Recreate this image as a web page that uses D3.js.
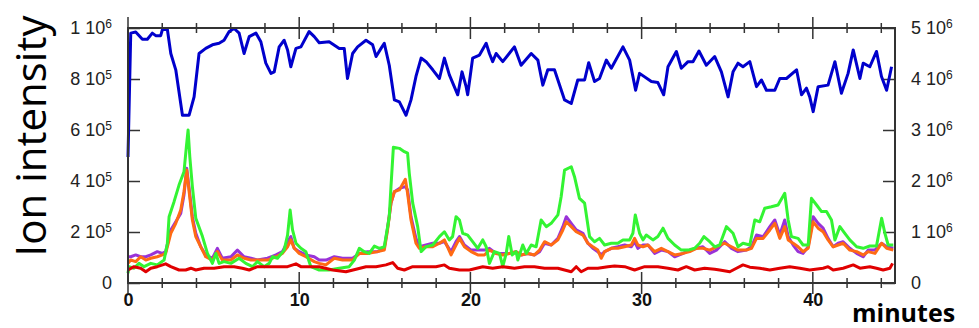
<!DOCTYPE html>
<html lang="en">
<head>
    <meta charset="UTF-8">
    <title>Ion intensity</title>
    <script src="https://d3js.org/d3.v7.min.js"></script>
    <style>
        body { margin: 0; background: #fff; }
    </style>
</head>
<body>
    <div id="chart"></div>
    <script>
        // time in minutes, intensity values
        // blue trace: right axis, units of 1e6
        const blueSeries = [
            [0.0, 2.47], [0.16, 4.90], [0.45, 4.92], [0.84, 4.78], [1.13, 4.78], [1.42, 4.90], [1.62, 4.85],
            [1.91, 4.85], [2.01, 4.97], [2.30, 4.97], [2.50, 4.50], [2.79, 4.18], [3.18, 3.29], [3.57, 3.29],
            [3.86, 3.65], [4.15, 4.50], [4.54, 4.60], [4.93, 4.67], [5.32, 4.70], [5.61, 4.76], [5.91, 4.93],
            [6.20, 4.99], [6.49, 4.90], [6.78, 4.50], [7.08, 4.83], [7.47, 4.90], [7.76, 4.73], [8.05, 4.31],
            [8.35, 4.11], [8.54, 4.14], [8.83, 4.63], [9.12, 4.76], [9.32, 4.57], [9.51, 4.24], [9.81, 4.60],
            [10.10, 4.63], [10.58, 4.93], [10.88, 4.83], [11.17, 4.71], [11.75, 4.73], [12.34, 4.60], [12.63, 4.60],
            [12.82, 4.01], [13.12, 4.50], [13.41, 4.63], [13.90, 4.76], [14.29, 4.67], [14.49, 4.44], [14.78, 4.60],
            [14.97, 4.70], [15.26, 4.27], [15.56, 3.59], [15.85, 3.55], [16.24, 3.29], [16.53, 3.59], [16.82, 4.05],
            [17.12, 4.41], [17.41, 4.34], [17.80, 4.18], [18.19, 4.01], [18.48, 4.41], [18.77, 4.08], [19.26, 3.69],
            [19.51, 4.14], [19.75, 3.85], [19.84, 3.69], [20.13, 4.41], [20.53, 4.47], [20.92, 4.70], [21.11, 4.50],
            [21.30, 4.34], [21.50, 4.50], [21.89, 4.34], [22.57, 4.63], [22.96, 4.27], [23.55, 4.50], [23.94, 4.37],
            [24.23, 3.88], [24.52, 4.18], [24.91, 4.18], [25.50, 3.59], [25.89, 3.52], [26.27, 3.98], [26.67, 3.98],
            [26.91, 4.32], [27.25, 3.95], [27.54, 4.01], [27.94, 4.37], [28.23, 4.21], [28.91, 4.63], [29.30, 4.37],
            [29.65, 3.78], [29.88, 4.11], [30.57, 3.95], [30.95, 3.93], [31.29, 3.69], [31.54, 4.24], [32.03, 4.54],
            [32.32, 4.21], [32.71, 4.34], [33.00, 4.34], [33.35, 4.55], [33.78, 4.27], [34.27, 4.44], [34.66, 4.14],
            [35.05, 3.65], [35.34, 4.14], [35.63, 4.31], [35.92, 4.24], [36.32, 4.34], [36.71, 3.85], [37.00, 3.98],
            [37.29, 3.78], [37.78, 3.78], [38.07, 4.01], [38.46, 4.01], [39.05, 4.18], [39.34, 3.69], [39.63, 3.82],
            [39.82, 3.65], [40.02, 3.36], [40.31, 3.85], [40.89, 3.88], [41.29, 4.34], [41.67, 3.72], [42.06, 4.11],
            [42.36, 4.57], [42.75, 4.01], [42.94, 4.31], [43.33, 4.24], [43.72, 4.54], [44.01, 4.05], [44.31, 3.78],
            [44.60, 4.24]
        ];

        // green trace: left axis, units of 1e5
        const greenSeries = [
            [0.0, 0.38], [0.06, 0.64], [0.35, 0.58], [0.64, 0.77], [0.94, 0.64], [1.33, 0.77], [1.71, 0.71],
            [2.11, 0.90], [2.30, 1.56], [2.40, 2.60], [2.69, 3.19], [2.98, 3.84], [3.27, 4.36], [3.41, 5.35],
            [3.51, 6.00], [3.61, 4.95], [3.76, 3.78], [3.96, 2.54], [4.35, 1.82], [4.64, 1.16], [4.93, 0.77],
            [5.13, 1.16], [5.32, 0.77], [5.61, 0.84], [6.01, 0.77], [6.49, 0.97], [6.88, 0.77], [7.27, 0.64],
            [7.56, 0.84], [7.95, 0.64], [8.25, 0.77], [8.44, 1.03], [8.73, 0.97], [9.12, 1.29], [9.32, 1.88],
            [9.47, 2.86], [9.61, 2.08], [9.81, 1.56], [10.10, 1.36], [10.39, 1.23], [10.68, 0.64], [11.17, 0.51],
            [11.75, 0.51], [12.34, 0.58], [12.92, 0.64], [13.22, 0.90], [13.51, 1.36], [13.80, 1.23], [14.09, 1.16],
            [14.39, 1.45], [14.68, 1.36], [14.97, 1.42], [15.07, 1.82], [15.26, 2.60], [15.36, 3.78], [15.50, 5.32],
            [15.85, 5.28], [16.14, 5.15], [16.33, 5.09], [16.43, 4.30], [16.63, 3.13], [16.92, 2.21], [17.12, 1.23],
            [17.41, 1.42], [17.80, 1.49], [18.19, 1.82], [18.48, 2.01], [18.77, 1.69], [18.96, 1.82], [19.16, 2.60],
            [19.36, 2.47], [19.55, 1.95], [19.84, 1.88], [20.13, 1.62], [20.43, 1.36], [20.72, 1.69], [20.92, 1.42],
            [21.11, 0.77], [21.40, 1.23], [21.70, 1.16], [21.89, 0.64], [22.09, 1.16], [22.24, 1.82], [22.44, 1.10],
            [22.67, 1.23], [22.77, 0.90], [23.06, 1.49], [23.26, 1.16], [23.55, 1.49], [23.84, 1.42], [24.13, 2.47],
            [24.43, 2.21], [24.72, 2.34], [25.11, 2.67], [25.30, 3.38], [25.50, 4.43], [25.89, 4.56], [26.08, 4.17],
            [26.37, 3.32], [26.67, 3.13], [26.96, 1.82], [27.25, 1.62], [27.54, 1.75], [27.84, 1.49], [28.23, 1.56],
            [28.61, 1.56], [28.91, 1.69], [29.30, 1.69], [29.49, 1.95], [29.63, 2.67], [29.88, 1.95], [30.08, 1.69],
            [30.27, 1.88], [30.66, 1.69], [30.95, 1.82], [31.25, 2.15], [31.54, 1.75], [31.93, 1.49], [32.32, 1.29],
            [32.71, 1.29], [33.10, 1.36], [33.39, 1.56], [33.64, 1.82], [33.98, 1.62], [34.27, 1.42], [34.56, 1.49],
            [34.95, 2.21], [35.34, 1.95], [35.63, 1.42], [35.92, 1.56], [36.32, 1.49], [36.61, 2.47], [36.90, 2.40],
            [37.19, 2.93], [37.58, 2.99], [37.97, 3.06], [38.36, 3.52], [38.56, 2.47], [38.75, 1.82], [39.14, 1.75],
            [39.43, 1.49], [39.73, 1.49], [39.92, 3.32], [40.22, 3.06], [40.51, 2.80], [40.80, 2.80], [41.09, 2.47],
            [41.29, 1.69], [41.58, 2.21], [41.87, 1.95], [42.16, 1.69], [42.56, 1.42], [42.94, 1.36], [43.33, 1.45],
            [43.72, 1.45], [44.02, 2.54], [44.21, 1.95], [44.40, 1.49], [44.70, 1.49]
        ];

        // orange and purple traces share sample times (left axis, units of 1e5)
        const opTimes = [
            0.0, 0.16, 0.45, 0.74, 1.04, 1.33, 1.71, 2.01, 2.20, 2.50, 2.79, 3.08, 3.27, 3.43, 3.57, 3.76, 3.96,
            4.25, 4.54, 4.93, 5.22, 5.51, 6.01, 6.39, 6.78, 7.18, 7.56, 8.15, 8.64, 9.02, 9.32, 9.51, 9.71, 10.00,
            10.39, 10.88, 11.17, 11.56, 12.05, 12.53, 13.12, 13.51, 13.99, 14.58, 14.97, 15.16, 15.36, 15.56, 15.85,
            16.20, 16.33, 16.53, 16.82, 17.02, 17.41, 17.80, 18.19, 18.48, 18.87, 19.16, 19.36, 19.65, 20.04, 20.43,
            20.82, 21.11, 21.50, 21.89, 22.28, 22.67, 22.96, 23.35, 23.74, 24.04, 24.33, 24.72, 25.11, 25.40, 25.60,
            25.89, 26.18, 26.57, 26.86, 27.15, 27.44, 27.64, 27.84, 28.23, 28.61, 29.01, 29.40, 29.59, 29.78, 30.08,
            30.37, 30.76, 31.15, 31.54, 31.93, 32.42, 32.81, 33.20, 33.58, 33.98, 34.37, 34.85, 35.25, 35.63, 36.12,
            36.42, 36.71, 37.10, 37.49, 37.78, 38.07, 38.36, 38.56, 38.85, 39.14, 39.43, 39.73, 40.02, 40.31, 40.60,
            40.89, 41.19, 41.48, 41.77, 42.16, 42.56, 42.94, 43.23, 43.63, 44.02, 44.31, 44.70
        ];
        const orangeValues = [
            0.77, 0.90, 0.84, 1.03, 0.90, 0.97, 1.03, 1.10, 1.16, 1.95, 2.34, 2.86, 3.58, 4.43, 3.58, 2.47, 1.82,
            1.42, 1.03, 0.90, 1.23, 0.90, 0.90, 1.10, 0.97, 0.90, 0.90, 0.90, 1.03, 1.16, 1.42, 1.69, 1.36, 1.16,
            1.03, 0.84, 0.77, 0.71, 0.97, 0.90, 0.90, 1.16, 1.16, 1.23, 1.29, 2.08, 3.13, 3.58, 3.65,
            4.07, 3.52, 2.47, 1.56, 1.36, 1.42, 1.42, 1.56, 1.69, 1.10, 1.49, 1.75, 1.42, 1.23, 1.10,
            1.10, 1.29, 1.16, 1.10, 1.16, 1.23, 1.10, 1.16, 1.10, 1.29, 1.62, 1.49, 1.69, 2.08, 2.40,
            2.21, 2.01, 1.88, 1.56, 1.42, 1.29, 0.97, 1.23, 1.36, 1.36, 1.42, 1.49, 1.75, 1.49, 1.42,
            1.49, 1.23, 1.36, 1.23, 1.10, 1.16, 1.23, 1.36, 1.36, 1.29, 1.42, 1.56, 1.42, 1.29, 1.29,
            1.36, 1.75, 1.75, 2.08, 2.34, 1.75, 2.21, 1.69, 1.56, 1.42, 1.23, 1.36, 2.40, 2.15, 2.01,
            1.69, 1.42, 1.49, 1.56, 1.29, 1.23, 1.10, 1.23, 1.16, 1.56, 1.36, 1.29
        ];
        const purpleValues = [
            1.03, 1.03, 1.10, 1.03, 1.03, 1.10, 1.23, 1.16, 1.23, 2.08, 2.40, 2.73, 3.45, 4.50, 3.71, 2.60, 1.95,
            1.42, 1.10, 0.97, 1.36, 0.97, 1.03, 1.29, 1.03, 0.97, 0.90, 0.97, 1.10, 1.23, 1.62, 1.82, 1.36, 1.23,
            1.10, 1.03, 0.90, 0.90, 1.03, 0.97, 0.97, 1.16, 1.23, 1.23, 1.36, 2.15, 3.13, 3.58, 3.71,
            3.78, 3.65, 2.60, 1.75, 1.42, 1.49, 1.56, 1.56, 1.62, 1.23, 1.62, 1.82, 1.49, 1.29, 1.29,
            1.29, 1.36, 1.16, 1.16, 1.16, 1.23, 1.10, 1.16, 1.10, 1.23, 1.56, 1.49, 1.75, 2.21, 2.60,
            2.34, 2.08, 1.95, 1.56, 1.36, 1.23, 1.10, 1.23, 1.36, 1.42, 1.49, 1.42, 1.62, 1.36, 1.49,
            1.49, 1.16, 1.29, 1.23, 1.03, 1.16, 1.29, 1.36, 1.42, 1.16, 1.29, 1.62, 1.36, 1.23, 1.29,
            1.42, 1.88, 1.82, 2.21, 2.47, 1.88, 2.47, 1.82, 1.49, 1.23, 1.16, 1.42, 2.60, 2.34, 2.15,
            1.75, 1.42, 1.56, 1.62, 1.36, 1.16, 1.03, 1.29, 1.29, 1.56, 1.42, 1.36
        ];

        // red trace: left axis, units of 1e5
        const redSeries = [
            [0.0, 0.51], [0.35, 0.64], [0.74, 0.58], [1.04, 0.44], [1.33, 0.58], [1.71, 0.64], [2.20, 0.75],
            [2.50, 0.64], [2.98, 0.51], [3.37, 0.51], [3.67, 0.58], [3.96, 0.51], [4.44, 0.58], [5.03, 0.58],
            [5.61, 0.64], [6.20, 0.64], [6.68, 0.58], [7.08, 0.51], [7.56, 0.64], [8.15, 0.64], [8.73, 0.64],
            [9.32, 0.64], [9.81, 0.75], [10.10, 0.64], [10.68, 0.64], [11.17, 0.64], [11.95, 0.51], [12.73, 0.44],
            [13.32, 0.54], [13.90, 0.64], [14.49, 0.64], [15.07, 0.71], [15.46, 0.80], [15.75, 0.58], [16.14, 0.51],
            [16.63, 0.64], [17.02, 0.64], [17.60, 0.64], [17.99, 0.64], [18.48, 0.71], [18.77, 0.58], [19.36, 0.51],
            [19.94, 0.51], [20.72, 0.64], [21.30, 0.58], [21.89, 0.64], [22.57, 0.58], [23.16, 0.64], [23.74, 0.64],
            [24.33, 0.58], [25.11, 0.58], [25.50, 0.51], [25.89, 0.44], [26.18, 0.64], [26.47, 0.44], [26.86, 0.58],
            [27.44, 0.58], [28.03, 0.64], [28.42, 0.67], [29.01, 0.64], [29.59, 0.51], [30.18, 0.64], [30.95, 0.64],
            [31.54, 0.58], [32.12, 0.51], [32.61, 0.64], [33.10, 0.51], [33.68, 0.58], [34.27, 0.54], [34.56, 0.51],
            [35.15, 0.44], [35.54, 0.58], [35.92, 0.71], [36.32, 0.62], [36.90, 0.58], [37.49, 0.51], [38.07, 0.58],
            [38.65, 0.64], [39.24, 0.58], [39.82, 0.51], [40.60, 0.58], [40.89, 0.64], [41.19, 0.51], [41.77, 0.58],
            [42.36, 0.71], [42.75, 0.58], [43.33, 0.64], [43.72, 0.58], [44.11, 0.51], [44.50, 0.58], [44.66, 0.77]
        ];

        const xMajor = [0, 10, 20, 30, 40];
        const xMinor = d3.range(0, 45, 2);
        const leftTicks = [0, 2e5, 4e5, 6e5, 8e5, 1e6];
        const rightTicks = [0, 1e6, 2e6, 3e6, 4e6, 5e6];

        const width = 979, height = 328;
        const plotLeft = 128, plotRight = 895, plotTop = 28, plotBottom = 283;

        const svg = d3.select("#chart").append("svg")
            .attr("width", width)
            .attr("height", height)
            .style("background", "#fff");

        const x = d3.scaleLinear().domain([0, 44.8]).range([plotLeft, plotRight]);
        const yL = d3.scaleLinear().domain([0, 1e6]).range([plotBottom, plotTop]);
        const yR = d3.scaleLinear().domain([0, 5e6]).range([plotBottom, plotTop]);

        const axisColor = "#333";
        const labelColor = "#222";

        // superscript tick labels like "8 10^5"
        function sciLabel(sel) {
            sel.each(function(d) {
                const t = d3.select(this).text("");
                if (d === 0) { t.text("0"); return; }
                const exp = Math.floor(Math.log10(d));
                const mant = Math.round(d / Math.pow(10, exp));
                t.append("tspan").text(mant + " 10");
                t.append("tspan").attr("dy", "-0.55em").attr("font-size", "12px").text(exp);
            });
        }

        // left axis
        const gLeft = svg.append("g")
            .attr("transform", `translate(${plotLeft},0)`)
            .call(d3.axisLeft(yL).tickValues(leftTicks).tickSize(-12).tickSizeOuter(0).tickPadding(16));
        gLeft.select(".domain").remove();
        gLeft.selectAll("line").attr("stroke", axisColor).attr("stroke-width", 1.5);
        gLeft.selectAll("text")
            .attr("font-family", "Liberation Sans, Arial, sans-serif")
            .attr("font-size", "18px")
            .attr("fill", labelColor)
            .call(sciLabel);

        // right axis
        const gRight = svg.append("g")
            .attr("transform", `translate(${plotRight},0)`)
            .call(d3.axisRight(yR).tickValues(rightTicks).tickSize(-12).tickSizeOuter(0).tickPadding(16));
        gRight.select(".domain").remove();
        gRight.selectAll("line").attr("stroke", axisColor).attr("stroke-width", 1.5);
        gRight.selectAll("text")
            .attr("font-family", "Liberation Sans, Arial, sans-serif")
            .attr("font-size", "18px")
            .attr("fill", labelColor)
            .call(sciLabel);

        // bottom axis labels
        const gBottom = svg.append("g")
            .attr("transform", `translate(0,${plotBottom})`)
            .call(d3.axisBottom(x).tickValues(xMajor).tickSize(0).tickPadding(10));
        gBottom.select(".domain").remove();
        gBottom.selectAll("text")
            .attr("font-family", "Liberation Sans, Arial, sans-serif")
            .attr("font-size", "18px")
            .attr("font-weight", "bold")
            .attr("fill", "#111");

        // crossing ticks on top and bottom edges
        [plotTop, plotBottom].forEach(yPos => {
            svg.append("g").selectAll("line")
                .data(xMinor)
                .join("line")
                .attr("x1", d => x(d))
                .attr("x2", d => x(d))
                .attr("y1", d => yPos - (d % 10 === 0 ? 11 : 5))
                .attr("y2", d => yPos + (d % 10 === 0 ? 11 : 5))
                .attr("stroke", axisColor)
                .attr("stroke-width", 1.5);
        });

        // traces
        const lineL = d3.line().x(d => x(d[0])).y(d => yL(d[1] * 1e5));
        const lineR = d3.line().x(d => x(d[0])).y(d => yR(d[1] * 1e6));

        const orangeSeries = opTimes.map((t, i) => [t, orangeValues[i]]);
        const purpleSeries = opTimes.map((t, i) => [t, purpleValues[i]]);

        const traces = [
            { data: purpleSeries, color: "#9932d8", gen: lineL },
            { data: orangeSeries, color: "#ff6a14", gen: lineL },
            { data: greenSeries, color: "#33f433", gen: lineL },
            { data: redSeries, color: "#e00000", gen: lineL },
            { data: blueSeries, color: "#0000cc", gen: lineR }
        ];

        svg.append("g").selectAll("path")
            .data(traces)
            .join("path")
            .attr("d", d => d.gen(d.data))
            .attr("fill", "none")
            .attr("stroke", d => d.color)
            .attr("stroke-width", 3)
            .attr("stroke-linejoin", "round");

        // frame
        svg.append("rect")
            .attr("x", plotLeft)
            .attr("y", plotTop)
            .attr("width", plotRight - plotLeft)
            .attr("height", plotBottom - plotTop)
            .attr("fill", "none")
            .attr("stroke", axisColor)
            .attr("stroke-width", 2);

        // titles
        svg.append("text")
            .attr("transform", `translate(46,136) rotate(-90)`)
            .attr("text-anchor", "middle")
            .attr("font-family", "Open Sans, sans-serif")
            .attr("font-size", "42px")
            .attr("fill", "#000")
            .text("Ion intensity");

        svg.append("text")
            .attr("x", 852)
            .attr("y", 322)
            .attr("font-family", "Open Sans, sans-serif")
            .attr("font-size", "25px")
            .attr("font-weight", "bold")
            .attr("fill", "#000")
            .text("minutes");
    </script>
</body>
</html>
